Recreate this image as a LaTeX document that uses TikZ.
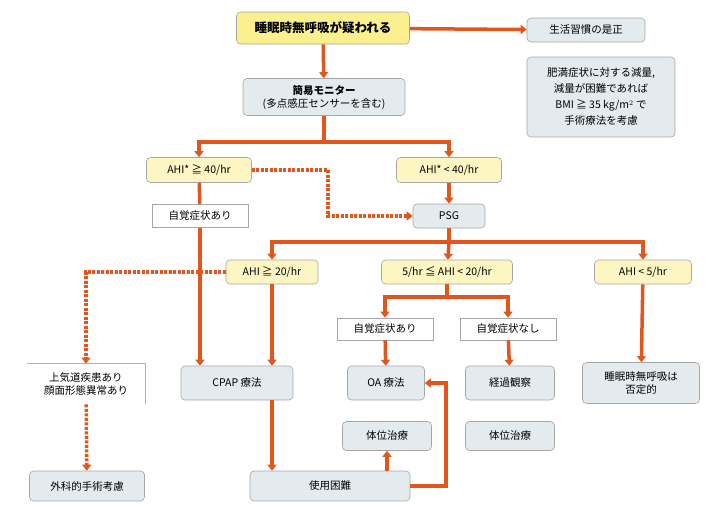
\documentclass[tikz,border=0pt]{standalone}
\usepackage{fontspec}
\setmainfont{Noto Sans CJK JP}
\usetikzlibrary{arrows.meta}
\definecolor{org}{HTML}{E0561C}
\definecolor{gbox}{HTML}{E4EBEE}
\definecolor{ybox}{HTML}{FDF6C3}
\definecolor{ytop}{HTML}{FCEF8E}
\begin{document}
\begin{tikzpicture}[x=1pt,y=-1pt,font=\fontsize{10.5}{13}\selectfont,
 box/.style={draw=gray!70,rounded corners=4pt,fill=gbox,align=center,inner sep=0pt,line width=0.6pt},
 ybx/.style={box,fill=ybox},
 wbx/.style={draw=gray!70,fill=white,align=center,inner sep=0pt,line width=0.6pt},
 ar/.style={draw=org,line width=3.5pt,-{Triangle[length=6pt,width=9pt]}},
 ln/.style={draw=org,line width=3.5pt},
 dt/.style={draw=org,line width=3.5pt,dash pattern=on 3pt off 1.5pt},
 dta/.style={dt,-{Triangle[length=6pt,width=9pt]}}]
\useasboundingbox (0,0) rectangle (715,509);
\node[box,fill=ytop,minimum width=173pt,minimum height=32pt,font=\fontsize{12.5}{14}\selectfont\bfseries] (top) at (323,28) {睡眠時無呼吸が疑われる};
\node[box,minimum width=118pt,minimum height=24pt] (life) at (586,30) {生活習慣の是正};
\node[box,minimum width=148pt,minimum height=80pt,font=\fontsize{10.5}{16}\selectfont] (note) at (601,97) {肥満症状に対する減量,\\減量が困難であれば\\BMI ≧ 35 kg/m$^2$ で\\手術療法を考慮};
\node[box,minimum width=162pt,minimum height=37pt] (mon) at (324,97) {\textbf{簡易モニター}\\(多点感圧センサーを含む)};
\node[ybx,minimum width=105pt,minimum height=25pt] (a40) at (199,170) {AHI* ≧ 40/hr};
\node[ybx,minimum width=105pt,minimum height=25pt] (b40) at (449,170) {AHI* < 40/hr};
\node[wbx,minimum width=96pt,minimum height=23pt] (sym1) at (200,216) {自覚症状あり};
\node[box,minimum width=72pt,minimum height=24pt] (psg) at (449,216) {PSG};
\node[ybx,minimum width=92pt,minimum height=24pt] (a20) at (272,272) {AHI ≧ 20/hr};
\node[ybx,minimum width=131pt,minimum height=24pt] (m20) at (447,272) {5/hr ≦ AHI < 20/hr};
\node[ybx,minimum width=97pt,minimum height=24pt] (b5) at (643,272) {AHI < 5/hr};
\node[wbx,minimum width=96pt,minimum height=22pt] (sym2) at (385,329) {自覚症状あり};
\node[wbx,minimum width=96pt,minimum height=22pt] (nsym) at (508,329) {自覚症状なし};
\node[wbx,draw=none,minimum width=117pt,minimum height=40pt] (upper) at (86,384) {上気道疾患あり\\顔面形態異常あり};
\draw[gray!60,line width=0.6pt] (upper.north west)--(upper.north east)--(upper.south east);
\node[box,minimum width=112pt,minimum height=34pt] (cpap) at (237,383) {CPAP 療法};
\node[box,minimum width=77pt,minimum height=34pt] (oa) at (386,383) {OA 療法};
\node[box,minimum width=89pt,minimum height=34pt] (obs) at (510,383) {経過観察};
\node[box,minimum width=117pt,minimum height=41pt] (neg) at (641,383) {睡眠時無呼吸は\\否定的};
\node[box,minimum width=89pt,minimum height=29pt] (pos1) at (387,436) {体位治療};
\node[box,minimum width=89pt,minimum height=29pt] (pos2) at (510,436) {体位治療};
\node[box,minimum width=115pt,minimum height=30pt] (surg) at (87,486) {外科的手術考慮};
\node[box,minimum width=160pt,minimum height=30pt] (diff) at (330,486) {使用困難};
\coordinate (j1) at (324,142);
\coordinate (j2) at (449,242);
\coordinate (j3) at (447,297);
\draw[ar] (top) -- (life);
\draw[ar] (top) -- (mon);
\draw[ln] (mon) -- (j1);
\draw[ar] (j1) -| (a40);
\draw[ar] (j1) -| (b40);
\draw[ln] (a40) -- (sym1);
\draw[ar] (sym1.south) -- (sym1.south|-cpap.north);
\draw[dta] (a40.east) -| (328,216) -- (psg.west);
\draw[ar] (b40) -- (psg);
\draw[ln] (psg) -- (j2);
\draw[ar] (j2) -| (a20);
\draw[ar] (j2) -| (b5);
\draw[ar] (j2) -- (m20);
\draw[ar] (a20.south) -- (a20.south|-cpap.north);
\draw[dta] (a20.west) -| (upper.north);
\draw[dta] (upper) -- (surg);
\draw[ln] (m20) -- (j3);
\draw[ar] (j3) -| (sym2);
\draw[ar] (j3) -| (nsym);
\draw[ar] (sym2) -- (oa);
\draw[ar] (nsym) -- (obs);
\draw[ar] (b5) -- (neg);
\draw[ar] (a20.south|-cpap.south) -- (a20.south|-diff.north);
\draw[ar] (pos1.south|-diff.north) -- (pos1.south);
\draw[ar] (diff.east) -| (446,383) -- (oa.east);
\end{tikzpicture}
\end{document}
